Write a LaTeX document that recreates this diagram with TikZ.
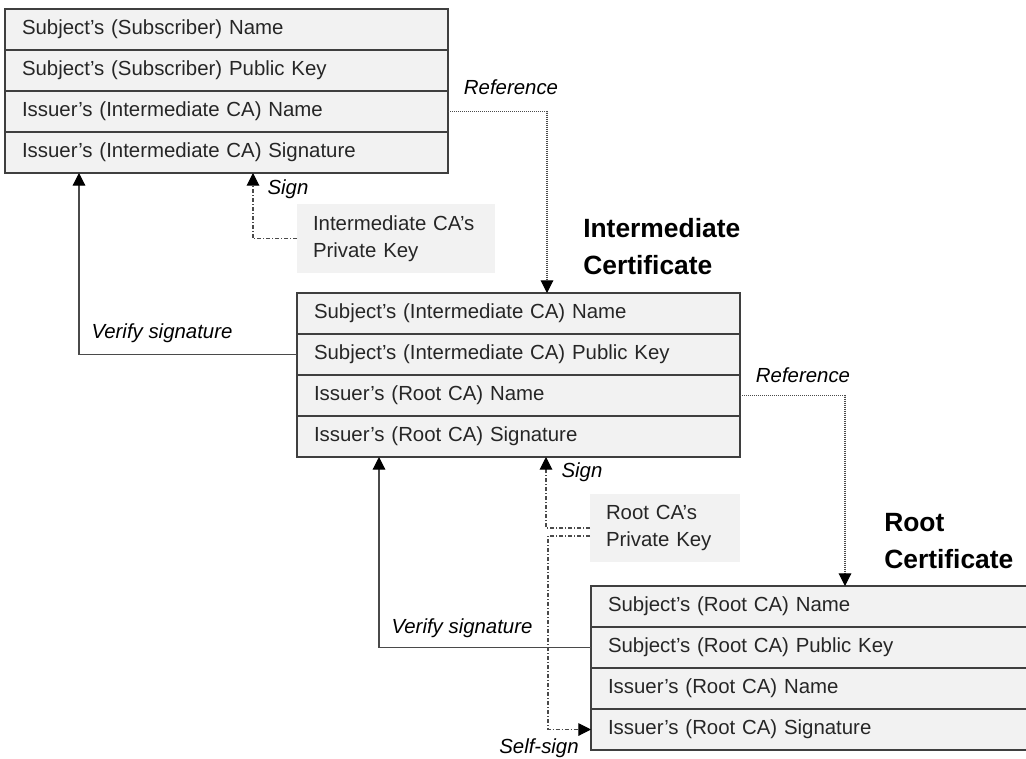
\documentclass[tikz,border=0pt]{standalone}
\usepackage{fontspec}
\setmainfont{Liberation Sans}
\usetikzlibrary{arrows.meta,positioning,calc}

\definecolor{rowfill}{HTML}{F2F2F2}
\definecolor{rowline}{HTML}{3F3F3F}
\definecolor{inktext}{HTML}{262626}
\definecolor{wire}{HTML}{4A4A4A}

\tikzset{
  field/.style={draw=rowline, line width=1pt, fill=rowfill, anchor=north west,
    outer sep=0pt, inner xsep=12.75pt, inner ysep=0pt, text width=306.75pt,
    minimum height=30.75pt, align=left, text=inktext},
  keybox/.style={fill=rowfill, anchor=north west, outer sep=0pt, inner xsep=12pt,
    align=left, text=inktext, font=\fontsize{15.3}{20.25}\selectfont},
  title/.style={anchor=west, inner sep=0pt, align=left, text=black,
    font=\bfseries\fontsize{19.8}{27.75}\selectfont},
  note/.style={inner sep=0pt, text=black, font=\itshape\fontsize{15.3}{18}\selectfont},
  tip/.style={-{Triangle[length=9.5pt,width=9.5pt,color=black]}},
  verify/.style={tip, draw=wire, line width=0.9pt},
  signline/.style={tip, draw=wire, line width=0.8pt,
    dash pattern=on 3pt off 1.5pt on 0.75pt off 1.5pt},
  refline/.style={tip, draw=wire, line width=0.8pt,
    dash pattern=on 0.75pt off 0.75pt},
}

\begin{document}
\begin{tikzpicture}[x=0.75pt, y=-0.75pt, font=\fontsize{15.3}{18}\selectfont]
  \path[use as bounding box] (0, 0) rectangle (1026, 758);
  \clip (0, 0) rectangle (1026, 758);

  % subscriber certificate
  \begin{scope}[shift={(5, 9)}]
    \node[field] (leaf-1) at (0, 0) {Subject’s (Subscriber) Name};
    \node[field, below=0pt of leaf-1] (leaf-2) {Subject’s (Subscriber) Public Key};
    \node[field, below=0pt of leaf-2] (leaf-3) {Issuer’s (Intermediate CA) Name};
    \node[field, below=0pt of leaf-3] (leaf-4) {Issuer’s (Intermediate CA) Signature};
  \end{scope}

  \node[keybox, text width=124.5pt, minimum height=51.75pt] (ikey) at (297, 204)
    {Intermediate CA’s\\Private Key};

  \node[title] (ititle) at (583, 247) {Intermediate\\Certificate};

  % intermediate certificate
  \begin{scope}[shift={(297, 293)}]
    \node[field] (inter-1) at (0, 0) {Subject’s (Intermediate CA) Name};
    \node[field, below=0pt of inter-1] (inter-2) {Subject’s (Intermediate CA) Public Key};
    \node[field, below=0pt of inter-2] (inter-3) {Issuer’s (Root CA) Name};
    \node[field, below=0pt of inter-3] (inter-4) {Issuer’s (Root CA) Signature};
  \end{scope}

  \node[keybox, text width=88.5pt, minimum height=51pt] (rkey) at (590, 494)
    {Root CA’s\\Private Key};

  \node[title] (rtitle) at (884, 541) {Root\\Certificate};

  % root certificate
  \begin{scope}[shift={(591, 586)}]
    \node[field] (root-1) at (0, 0) {Subject’s (Root CA) Name};
    \node[field, below=0pt of root-1] (root-2) {Subject’s (Root CA) Public Key};
    \node[field, below=0pt of root-2] (root-3) {Issuer’s (Root CA) Name};
    \node[field, below=0pt of root-3] (root-4) {Issuer’s (Root CA) Signature};
  \end{scope}

  % references to the issuer
  \draw[refline] (leaf-3.east) -| ($(inter-1.north west)+(250, 0)$);
  \draw[refline] (inter-3.east) -| ($(root-1.north west)+(254, 0)$);
  \node[note] (ref-a) at (511, 87) {Reference};
  \node[note] (ref-b) at (803, 375) {Reference};

  % signature checks
  \draw[verify] (inter-2.west) -| ($(leaf-4.south west)+(74, 0)$);
  \draw[verify] (root-2.west) -| ($(inter-4.south west)+(82, 0)$);
  \node[note] (check-a) at (162, 333) {Verify signature};
  \node[note] (check-b) at (462, 628) {Verify signature};

  % signing with the private keys
  \draw[signline] (ikey.west) -| ($(leaf-4.south west)+(248, 0)$);
  \draw[signline] (rkey.west) -| ($(inter-4.south west)+(249, 0)$);
  \draw[signline] ($(rkey.west)+(0, 8)$) -- ++(-42, 0) |- (root-4.west);
  \node[note] (sign-a) at (288, 189) {Sign};
  \node[note] (sign-b) at (582, 472) {Sign};
  \node[note] (sign-c) at (539, 748) {Self-sign};
\end{tikzpicture}
\end{document}
